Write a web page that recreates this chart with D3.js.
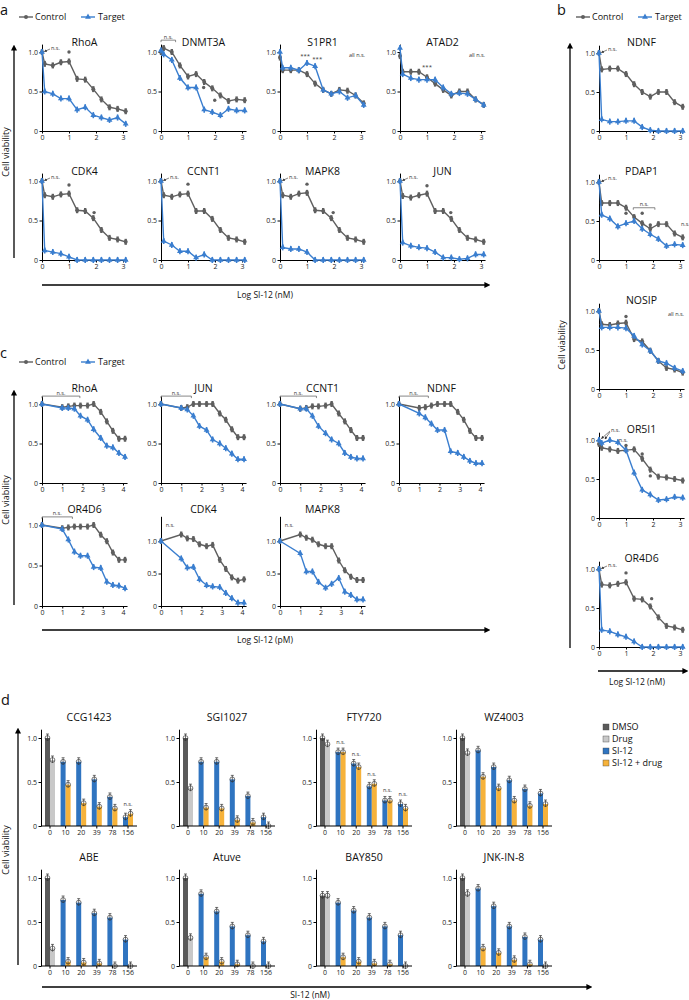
<!DOCTYPE html>
<html><head><meta charset="utf-8">
<script src="https://cdn.jsdelivr.net/npm/d3@7"></script>
<style>body{margin:0;background:#fff} svg{display:block} text{font-family:"Open Sans",sans-serif}</style>
</head><body><svg id="c" width="689" height="1000"></svg>
<script>
// ---------- DATA ----------
const xA = [0,0.1,0.4,0.7,1.0,1.3,1.6,1.9,2.2,2.5,2.8,3.1];
const xC = [0,1.0,1.3,1.6,1.9,2.25,2.55,2.9,3.2,3.5,3.8,4.1];
const xTicksA = [0,1,2,3];
const xTicksC = [0,1,2,3,4];
const yTicks = [0,0.5,1.0];

const aGenes = ["RhoA","DNMT3A","S1PR1","ATAD2","CDK4","CCNT1","MAPK8","JUN"];
const aControl = [
 [1.0,0.85,0.83,0.87,0.88,0.66,0.65,0.53,0.40,0.30,0.28,0.25],
 [1.0,1.05,1.0,0.83,0.69,0.72,0.62,0.54,0.45,0.38,0.40,0.39],
 [0.93,0.77,0.77,0.77,0.72,0.60,0.52,0.47,0.52,0.51,0.45,0.35],
 [0.95,0.75,0.75,0.75,0.68,0.60,0.52,0.45,0.50,0.50,0.40,0.33],
 [1.0,0.82,0.80,0.83,0.84,0.63,0.62,0.53,0.38,0.28,0.26,0.23],
 [1.0,0.82,0.80,0.83,0.84,0.62,0.62,0.52,0.38,0.28,0.26,0.23],
 [1.0,0.82,0.80,0.84,0.85,0.63,0.62,0.53,0.38,0.28,0.26,0.23],
 [1.0,0.81,0.79,0.82,0.84,0.62,0.62,0.52,0.38,0.28,0.26,0.23]
];
const aTarget = [
 [1.0,0.50,0.47,0.41,0.41,0.27,0.30,0.20,0.17,0.14,0.17,0.09],
 [1.02,0.97,0.90,0.67,0.55,0.55,0.27,0.24,0.20,0.28,0.26,0.26],
 [1.0,0.80,0.80,0.77,0.86,0.82,0.52,0.47,0.50,0.42,0.45,0.33],
 [1.05,0.72,0.67,0.65,0.65,0.65,0.55,0.47,0.48,0.47,0.40,0.33],
 [1.0,0.12,0.10,0.08,0.04,0,0,0,0,0,0,0],
 [1.0,0.24,0.19,0.11,0.11,0.03,0.07,0,0,0,0,0],
 [1.0,0.16,0.14,0.14,0.10,0,0,0,0,0,0,0],
 [1.0,0.22,0.18,0.16,0.15,0.10,0.03,0.03,0.01,0.02,0.07,0.07]
];
const aDots = [[[1.0,1.0]],[[1.58,0.55],[1.99,0.39]],[],[],[[1.0,0.95],[1.93,0.6]],[[1.0,0.96]],[[1.0,0.96],[1.97,0.6]],[[1.0,0.94],[1.88,0.6]]];
const aNotes = [
 {arrow:true},{bracket:[0,0.54,1.15]},
 {allns:true,texts:[[0.93,0.92,"***"],[1.38,0.88,"***"]]},
 {allns:true,texts:[[1.0,0.79,"***"]]},
 {arrow:true},{arrow:true},{arrow:true},{arrow:true}
];

const bGenes = ["NDNF","PDAP1","NOSIP","OR5I1","OR4D6"];
const bControl = [
 [1.0,0.79,0.80,0.80,0.73,0.60,0.50,0.44,0.50,0.50,0.37,0.31],
 [1.0,0.73,0.73,0.73,0.67,0.55,0.47,0.40,0.46,0.46,0.34,0.29],
 [1.0,0.83,0.82,0.84,0.85,0.64,0.61,0.49,0.36,0.27,0.25,0.21],
 [0.95,0.90,0.88,0.86,0.87,0.88,0.76,0.62,0.53,0.52,0.50,0.48],
 [1.0,0.80,0.79,0.81,0.83,0.62,0.61,0.52,0.38,0.27,0.25,0.22]
];
const bTarget = [
 [1.0,0.15,0.12,0.12,0.13,0.13,0.05,0.01,0,0,0,0],
 [1.0,0.58,0.53,0.43,0.47,0.50,0.40,0.33,0.27,0.18,0.20,0.19],
 [1.0,0.79,0.79,0.79,0.78,0.68,0.57,0.49,0.36,0.33,0.27,0.23],
 [1.0,0.96,1.0,0.97,0.87,0.58,0.36,0.30,0.23,0.24,0.27,0.26],
 [1.0,0.22,0.20,0.16,0.13,0.07,0,0,0,0,0,0]
];
const bDots = [[],[[1.0,0.6],[1.6,0.6],[1.9,0.45]],[[1.0,0.93]],[[1.0,0.93],[1.6,0.82],[1.9,0.54]],[[1.0,0.95],[1.95,0.62]]];
const bNotes = [
 {arrow:true},
 {arrow:true,bracket:[1.27,2.07,0.67],texts:[[3.2,0.43,"n.s."]]},
 {allns:true},
 {arrowHigh:true,texts:[[0.9,0.97,"n.s."]]},
 {arrow:true}
];

const cGenes = ["RhoA","JUN","CCNT1","NDNF","OR4D6","CDK4","MAPK8"];
const cControl = [
 [1.0,0.96,0.97,0.98,0.98,0.98,1.0,0.90,0.78,0.66,0.56,0.56],
 [1.0,0.95,0.96,1.0,1.0,1.0,1.0,0.88,0.80,0.68,0.58,0.58],
 [1.0,0.94,0.95,0.97,0.97,0.98,1.0,0.88,0.78,0.67,0.57,0.57],
 [1.0,0.95,0.96,0.98,1.0,1.0,1.0,0.90,0.80,0.66,0.57,0.57],
 [1.0,0.96,0.97,0.98,0.98,0.98,1.0,0.88,0.80,0.66,0.57,0.57],
 [1.0,1.10,1.04,1.03,0.95,0.92,0.94,0.71,0.57,0.44,0.39,0.41],
 [1.0,1.10,1.05,1.02,0.95,0.92,0.92,0.70,0.55,0.45,0.40,0.40]
];
const cTarget = [
 [1.0,0.95,0.95,0.94,0.85,0.80,0.68,0.57,0.47,0.45,0.38,0.33],
 [1.0,0.95,0.93,0.85,0.72,0.67,0.55,0.50,0.44,0.37,0.30,0.30],
 [1.0,0.94,0.94,0.85,0.72,0.63,0.55,0.50,0.38,0.33,0.31,0.31],
 [1.0,0.88,0.83,0.75,0.67,0.67,0.40,0.38,0.33,0.28,0.25,0.25],
 [1.0,0.95,0.82,0.67,0.62,0.62,0.48,0.47,0.30,0.26,0.25,0.22],
 [1.0,0.73,0.59,0.60,0.41,0.32,0.30,0.29,0.20,0.12,0.05,0.05],
 [1.0,0.81,0.53,0.53,0.37,0.28,0.34,0.43,0.22,0.17,0.10,0.10]
];
const cNotes = [
 {bracket:[0,1.87,1.1]},{bracket:[0,1.5,1.1]},{bracket:[0,1.8,1.1]},{bracket:[0,1.45,1.1]},
 {bracket:[0,1.5,1.1]},{texts:[[0.45,1.22,"n.s."]]},{texts:[[0.45,1.22,"n.s."]]}
];

const dDrugs = ["CCG1423","SGI1027","FTY720","WZ4003","ABE","Atuve","BAY850","JNK-IN-8"];
const dConc = ["0","10","20","39","78","156"];
const dDMSO = [1.0,1.0,1.0,1.0,1.0,1.0,0.8,1.0];
const dDrug = [0.75,0.43,0.93,0.83,0.2,0.32,0.8,0.82];
const dSI = [
 [0.73,0.73,0.53,0.33,0.10],[0.73,0.73,0.53,0.34,0.10],[0.84,0.71,0.45,0.29,0.25],[0.86,0.67,0.52,0.42,0.37],
 [0.75,0.72,0.60,0.55,0.30],[0.82,0.62,0.45,0.35,0.28],[0.72,0.63,0.55,0.45,0.35],[0.88,0.68,0.45,0.33,0.30]
];
const dSIDrug = [
 [0.47,0.26,0.22,0.20,0.14],[0.21,0.20,0.07,0.04,0.0],[0.84,0.67,0.48,0.29,0.20],[0.56,0.43,0.29,0.23,0.25],
 [0.05,0.04,0.03,0.0,0.0],[0.10,0.05,0.02,0.0,0.0],[0.10,0.05,0.03,0.02,0.0],[0.20,0.15,0.07,0.02,0.0]
];
const dNS = [[5],[],[1,2,3,4,5],[],[],[],[],[]];
const dLegend = ["DMSO","Drug","SI-12","SI-12 + drug"];

// ---------- STYLE ----------
const CTRL = "#5f5f5f", TGT = "#3a7ecf";
const BARC = ["#5a5a5a","#c8c8c8","#2f74c0","#f6b23a"];

const svg = d3.select("#c");
const defs = svg.append("defs");
defs.append("marker").attr("id","ah").attr("viewBox","0 0 10 10").attr("refX",1).attr("refY",5)
  .attr("markerWidth",6).attr("markerHeight",6).attr("markerUnits","userSpaceOnUse").attr("orient","auto")
  .append("path").attr("d","M0,0L10,5L0,10z").attr("fill","#000");
defs.append("marker").attr("id","sah").attr("viewBox","0 0 10 10").attr("refX",8).attr("refY",5)
  .attr("markerWidth",3).attr("markerHeight",3).attr("markerUnits","userSpaceOnUse").attr("orient","auto")
  .append("path").attr("d","M0,0L10,5L0,10z").attr("fill","#333");

function styleAxis(g){
  g.selectAll("path,line").attr("stroke","#000").attr("stroke-width",1);
  g.selectAll("text").attr("font-size",7).attr("fill","#222").attr("font-family","Open Sans, sans-serif");
}
const yFmt = d => d===0 ? "0" : d3.format(".1f")(d);
const tri = d3.symbol(d3.symbolTriangle).size(15);

function curvePlot(c){
  const x = d3.scaleLinear().domain([0,c.xmax]).range([c.ox, c.ox + c.ux*c.xmax]);
  const y = d3.scaleLinear().domain([0,c.ymax]).range([c.y0, c.y0 - c.uy*c.ymax]);
  const g = svg.append("g");
  const gx = g.append("g").attr("transform",`translate(0,${c.y0})`)
    .call(d3.axisBottom(x).tickValues(c.xticks).tickFormat(d3.format("d")).tickSize(2.5).tickSizeOuter(0).tickPadding(1.5));
  styleAxis(gx);
  const gy = g.append("g").attr("transform",`translate(${c.ox},0)`)
    .call(d3.axisLeft(y).tickValues(yTicks).tickFormat(yFmt).tickSize(2.5).tickSizeOuter(0).tickPadding(1.5));
  styleAxis(gy);
  g.append("text").attr("x",c.ox + c.ux*c.xmax/2).attr("y",c.titleY).attr("text-anchor","middle")
    .attr("font-size",10.5).attr("fill","#111").text(c.title);
  const line = d3.line().x((d,i)=>x(c.xs[i])).y(d=>y(d));
  [[c.ctrl,CTRL,"c"],[c.tgt,TGT,"t"]].forEach(([vals,col,k])=>{
    g.append("path").datum(vals).attr("d",line).attr("fill","none").attr("stroke",col).attr("stroke-width",1.4);
    const pts = g.append("g").selectAll("g").data(vals).join("g")
      .attr("transform",(d,i)=>`translate(${x(c.xs[i])},${y(d)})`);
    pts.append("line").attr("y1",-3).attr("y2",3).attr("stroke",col).attr("stroke-width",k==="c"?2.4:1.6);
    if(k==="c") pts.append("circle").attr("r",2).attr("fill",col);
    else pts.append("path").attr("d",tri).attr("fill",col);
  });
  (c.dots||[]).forEach(([dx,dy])=>{
    g.append("circle").attr("cx",x(dx)).attr("cy",y(dy)).attr("r",1.7).attr("fill",CTRL);
  });
  const n = c.notes||{};
  if(n.arrow){
    g.append("text").attr("x",c.ox+9).attr("y",y(1.0)-2).attr("font-size",5.5).attr("fill","#333").text("n.s.");
    g.append("line").attr("x1",c.ox+8).attr("y1",y(1.0)-3).attr("x2",c.ox+2.5).attr("y2",y(1.0)-0.5)
      .attr("stroke","#333").attr("stroke-width",0.6).attr("marker-end","url(#sah)");
  }
  if(n.arrowHigh){
    g.append("text").attr("x",c.ox+12).attr("y",y(1.0)-8).attr("font-size",5.5).attr("fill","#333").text("n.s.");
    g.append("line").attr("x1",c.ox+11).attr("y1",y(1.0)-9).attr("x2",c.ox+2.5).attr("y2",y(1.0)-1.5)
      .attr("stroke","#333").attr("stroke-width",0.6).attr("marker-end","url(#sah)");
    g.append("line").attr("x1",c.ox+11).attr("y1",y(1.0)-8).attr("x2",c.ox+6).attr("y2",y(1.0)-1)
      .attr("stroke","#333").attr("stroke-width",0.6).attr("marker-end","url(#sah)");
  }
  if(n.bracket){
    const [x1,x2,v] = n.bracket, yy = y(v);
    g.append("path").attr("d",`M${x(x1)},${yy+2}V${yy}H${x(x2)}V${yy+2}`).attr("fill","none")
      .attr("stroke","#555").attr("stroke-width",0.7);
    g.append("text").attr("x",(x(x1)+x(x2))/2).attr("y",yy-1.5).attr("text-anchor","middle")
      .attr("font-size",5.5).attr("fill","#333").text("n.s.");
  }
  if(n.allns){
    g.append("text").attr("x",c.ox + c.ux*c.xmax).attr("y",y(1.0)+5).attr("text-anchor","end")
      .attr("font-size",5.5).attr("fill","#333").text("all n.s.");
  }
  (n.texts||[]).forEach(([tx,ty,s])=>{
    g.append("text").attr("x",x(tx)).attr("y",y(ty)).attr("text-anchor","middle")
      .attr("font-size",s==="***"?6:5.5).attr("fill","#333").text(s);
  });
}

function legend(x0,y0){
  const g = svg.append("g");
  g.append("line").attr("x1",x0).attr("x2",x0+14).attr("y1",y0).attr("y2",y0).attr("stroke",CTRL).attr("stroke-width",1.4);
  g.append("circle").attr("cx",x0+7).attr("cy",y0).attr("r",2).attr("fill",CTRL);
  g.append("text").attr("x",x0+16).attr("y",y0+3.2).attr("font-size",9).attr("fill","#111").text("Control");
  const x1 = x0+62;
  g.append("line").attr("x1",x1).attr("x2",x1+14).attr("y1",y0).attr("y2",y0).attr("stroke",TGT).attr("stroke-width",1.4);
  g.append("path").attr("d",tri).attr("transform",`translate(${x1+7},${y0})`).attr("fill",TGT);
  g.append("text").attr("x",x1+17).attr("y",y0+3.2).attr("font-size",9).attr("fill","#111").text("Target");
}

function letter(s,x,y){ svg.append("text").attr("x",x).attr("y",y).attr("font-size",14.5).attr("fill","#111").text(s); }
function vArrow(x,yTop,yBot){
  svg.append("line").attr("x1",x).attr("x2",x).attr("y1",yBot).attr("y2",yTop+5).attr("stroke","#000").attr("stroke-width",1.3).attr("marker-end","url(#ah)");
}
function hArrow(y,x1,x2){
  svg.append("line").attr("x1",x1).attr("x2",x2-5).attr("y1",y).attr("y2",y).attr("stroke","#000").attr("stroke-width",1.3).attr("marker-end","url(#ah)");
}
function vLabel(s,x,y){
  svg.append("text").attr("transform",`translate(${x},${y}) rotate(-90)`).attr("text-anchor","middle")
    .attr("font-size",9).attr("fill","#111").text(s);
}
function hLabel(s,x,y){
  svg.append("text").attr("x",x).attr("y",y).attr("text-anchor","middle").attr("font-size",8.5).attr("fill","#111").text(s);
}

// ---------- PANEL A ----------
letter("a",0,15);
legend(19,17);
const colX = [42,161,280,400];
aGenes.forEach((gname,i)=>{
  const row = Math.floor(i/4), col = i%4;
  const y0 = [131,260][row];
  curvePlot({ox:colX[col], y0, uy:79, ymax:1.1, ux:27, xmax:3.15, xticks:xTicksA, title:gname, titleY:y0-85,
    xs:xA, ctrl:aControl[i], tgt:aTarget[i], dots:aDots[i], notes:aNotes[i]});
});
vArrow(14,45,258); vLabel("Cell viability",9,152);
hArrow(285,42,490); hLabel("Log SI-12 (nM)",265,298);

// ---------- PANEL B ----------
letter("b",557,15);
legend(576,17);
bGenes.forEach((gname,i)=>{
  const y0 = 131 + 129*i;
  curvePlot({ox:599, y0, uy:78, ymax:1.1, ux:27, xmax:3.15, xticks:xTicksA, title:gname, titleY:y0-85,
    xs:xA, ctrl:bControl[i], tgt:bTarget[i], dots:bDots[i], notes:bNotes[i]});
});
vArrow(570,43,648); vLabel("Cell viability",565,345);
hArrow(671,598,688); hLabel("Log SI-12 (nM)",637,685);

// ---------- PANEL C ----------
letter("c",0,358);
legend(19,362);
cGenes.forEach((gname,i)=>{
  const row = i<4 ? 0 : 1, col = i<4 ? i : i-4;
  const y0 = [483,606][row];
  const big = (gname==="CDK4"||gname==="MAPK8");
  curvePlot({ox:colX[col]-(col===3?1:0), y0, uy: row===0?79:(big?65:81), ymax: big?1.38:1.1, ux:20.25, xmax:4.2,
    xticks:xTicksC, title:gname, titleY: row===0? y0-91 : y0-93,
    xs:xC, ctrl:cControl[i], tgt:cTarget[i], dots:[], notes:cNotes[i]});
});
vArrow(14,390,605); vLabel("Cell viability",9,500);
hArrow(630,42,490); hLabel("Log SI-12 (pM)",265,643);

// ---------- PANEL D ----------
letter("d",1,705);
const dColX = [41,179,316,456];
dDrugs.forEach((name,i)=>{
  const row = Math.floor(i/4), col = i%4;
  const ox = dColX[col], y0 = [826,966][row];
  const y = d3.scaleLinear().domain([0,1.1]).range([y0, y0-88*1.1]);
  const xb = d3.scaleBand().domain(dConc).range([ox+4, ox+92]).paddingInner(0.36).paddingOuter(0);
  const g = svg.append("g");
  const bw = xb.bandwidth()/2;
  const bars = [];
  bars.push({k:"0",side:0,v:dDMSO[i],c:BARC[0]});
  bars.push({k:"0",side:1,v:dDrug[i],c:BARC[1]});
  dConc.slice(1).forEach((k,j)=>{
    bars.push({k,side:0,v:dSI[i][j],c:BARC[2]});
    bars.push({k,side:1,v:dSIDrug[i][j],c:BARC[3]});
  });
  g.selectAll("rect").data(bars).join("rect")
    .attr("x",d=>xb(d.k)+d.side*bw).attr("width",bw).attr("y",d=>y(d.v)).attr("height",d=>y0-y(d.v)).attr("fill",d=>d.c);
  const eb = g.append("g").selectAll("g").data(bars).join("g")
    .attr("transform",d=>`translate(${xb(d.k)+d.side*bw+bw/2},${y(d.v)})`);
  eb.append("line").attr("y1",-4).attr("y2",3).attr("stroke","#333").attr("stroke-width",0.7);
  eb.append("line").attr("x1",-1.5).attr("x2",1.5).attr("y1",-4).attr("y2",-4).attr("stroke","#333").attr("stroke-width",0.7);
  eb.append("circle").attr("r",2.4).attr("fill","none").attr("stroke","#333").attr("stroke-width",0.65);
  const gx = g.append("g").attr("transform",`translate(0,${y0})`)
    .call(d3.axisBottom(xb).tickSize(2.5).tickSizeOuter(0).tickPadding(1.5));
  gx.select(".domain").attr("d",`M${ox},0H${ox+96}`);
  styleAxis(gx);
  const gy = g.append("g").attr("transform",`translate(${ox},0)`)
    .call(d3.axisLeft(y).tickValues(yTicks).tickFormat(yFmt).tickSize(2.5).tickSizeOuter(0).tickPadding(1.5));
  styleAxis(gy);
  g.append("text").attr("x",ox+48).attr("y",y0-105).attr("text-anchor","middle").attr("font-size",10.5).attr("fill","#111").text(name);
  dNS[i].forEach(j=>{
    const k = dConc[j];
    const v = Math.max(dSI[i][j-1], dSIDrug[i][j-1]);
    g.append("text").attr("x",xb(k)+xb.bandwidth()/2).attr("y",y(v)-8).attr("text-anchor","middle")
      .attr("font-size",5.5).attr("fill","#333").text("n.s.");
  });
});
vArrow(18,728,965); vLabel("Cell viability",9,850);
hArrow(987,42,592); hLabel("SI-12 (nM)",310,998);
const lg = svg.append("g");
dLegend.forEach((s,i)=>{
  lg.append("rect").attr("x",603).attr("y",724+12*i).attr("width",6).attr("height",6).attr("fill",BARC[i]).attr("stroke","#444").attr("stroke-width",0.4);
  lg.append("text").attr("x",612).attr("y",730+12*i).attr("font-size",9).attr("fill","#111").text(s);
});
</script></body></html>
